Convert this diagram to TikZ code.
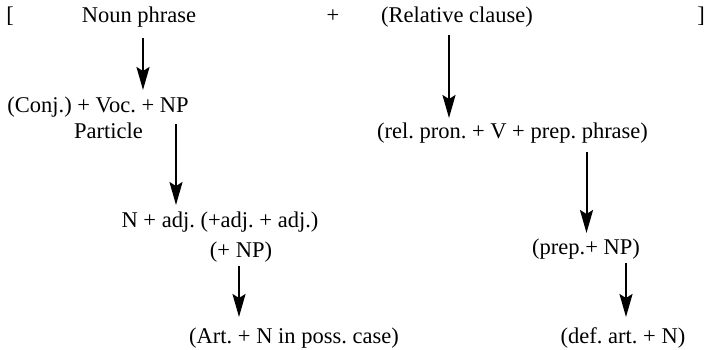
\documentclass[tikz,border=0pt]{standalone}
\usepackage{fontspec}
\setmainfont{Liberation Serif}
\usetikzlibrary{arrows.meta,calc}
\begin{document}
\frenchspacing
\begin{tikzpicture}[x=0.5pt,y=-0.5pt,
  lbl/.style={anchor=base,inner sep=0pt,font=\fontsize{11.25pt}{13pt}\selectfont},
  arr/.style={line width=1pt,-{Stealth[length=11.5pt,width=6.5pt,inset=2pt]}}]
\useasboundingbox (0,0) rectangle (713,349);
\node[lbl] (lb) at (10,22) {[};
\node[lbl] (np) at (139,22) {Noun phrase};
\node[lbl] (plus) at (333,22) {+};
\node[lbl] (rc) at (457,22) {(Relative clause)};
\node[lbl] (rb) at (701,22) {]};
\node[lbl] (conj) at (98,112) {(Conj.) + Voc. + NP};
\node[lbl] (part) at (108.5,138) {Particle};
\node[lbl] (nadj) at (220,227) {N + adj. (+adj. + adj.)};
\node[lbl] (pnp) at (241,257) {(+ NP)};
\node[lbl] (art) at (294,343) {(Art. + N in poss. case)};
\node[lbl] (rel) at (512.5,138) {(rel. pron. + V + prep. phrase)};
\node[lbl] (prep) at (586,254) {(prep.+ NP)};
\node[lbl] (def) at (623,343) {(def. art. + N)};
\draw[arr] ($(np.base)+(4,16)$) -- ($(conj.base)+(45,-22)$);
\draw[arr] ($(conj.base)+(78,12)$) -- ($(nadj.base)+(-44,-22)$);
\draw[arr] ($(pnp.base)+(-2,9)$) -- ($(art.base)+(-55,-26)$);
\draw[arr] ($(rc.base)+(-8,13)$) -- ($(rel.base)+(-63.5,-20)$);
\draw[arr] ($(rel.base)+(74,14)$) -- ($(prep.base)+(0.5,-21)$);
\draw[arr] ($(prep.base)+(40,9)$) -- ($(def.base)+(3,-26)$);
\end{tikzpicture}
\end{document}
